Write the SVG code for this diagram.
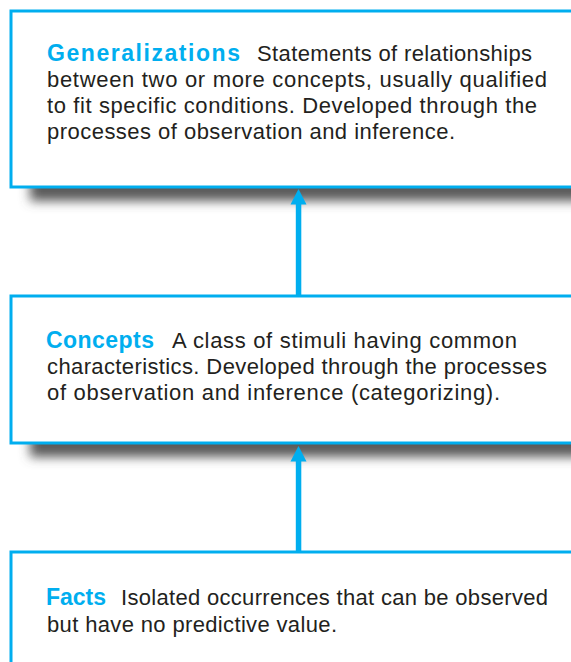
<svg xmlns="http://www.w3.org/2000/svg" width="571" height="662" viewBox="0 0 571 662">
<style>
.box{fill:#fff;stroke:#00AEEF;stroke-width:3}
.t{font-family:"Liberation Sans",Arial,sans-serif;font-size:22px;fill:#231F20}
.h{font-family:"Liberation Sans",Arial,sans-serif;font-size:23px;font-weight:bold;fill:#00AEEF}
.shadow{fill:#5a5a5a;filter:url(#blur)}
.arrow{fill:#00AEEF}
</style>
<defs>
<filter id="blur" x="-20%" y="-100%" width="140%" height="300%">
<feGaussianBlur stdDeviation="5.5"/>
</filter>
</defs>
<rect width="571" height="662" fill="#fff"/>
<g id="shadows">
<rect class="shadow" x="30" y="170" width="600" height="31"/>
<rect class="shadow" x="30" y="425" width="600" height="32"/>
</g>
<g id="generalizations">
<rect class="box" x="11" y="11" width="600" height="176"/>
<text class="h" x="47" y="61" textLength="193">Generalizations</text>
<text class="t" x="257" y="61" textLength="275">Statements of relationships</text>
<text class="t" x="47" y="87" textLength="500">between two or more concepts, usually qualified</text>
<text class="t" x="47" y="113" textLength="490">to fit specific conditions. Developed through the</text>
<text class="t" x="47" y="139" textLength="408">processes of observation and inference.</text>
</g>
<g id="concepts">
<rect class="box" x="11" y="296" width="600" height="147"/>
<text class="h" x="46" y="348" textLength="108">Concepts</text>
<text class="t" x="172" y="348" textLength="345">A class of stimuli having common</text>
<text class="t" x="47" y="374" textLength="500">characteristics. Developed through the processes</text>
<text class="t" x="47" y="400" textLength="453">of observation and inference (categorizing).</text>
</g>
<g id="facts">
<rect class="box" x="11" y="552" width="600" height="140"/>
<text class="h" x="46" y="605" textLength="60">Facts</text>
<text class="t" x="121" y="605" textLength="427">Isolated occurrences that can be observed</text>
<text class="t" x="47" y="632" textLength="290">but have no predictive value.</text>
</g>
<g id="connectors">
<rect class="arrow" x="295.8" y="202" width="5.5" height="93"/>
<polygon class="arrow" points="298.5,189 290.5,204.5 306.5,204.5"/>
<rect class="arrow" x="295.8" y="459" width="5.5" height="92"/>
<polygon class="arrow" points="298.5,446 290.5,461.5 306.5,461.5"/>
</g>
</svg>
